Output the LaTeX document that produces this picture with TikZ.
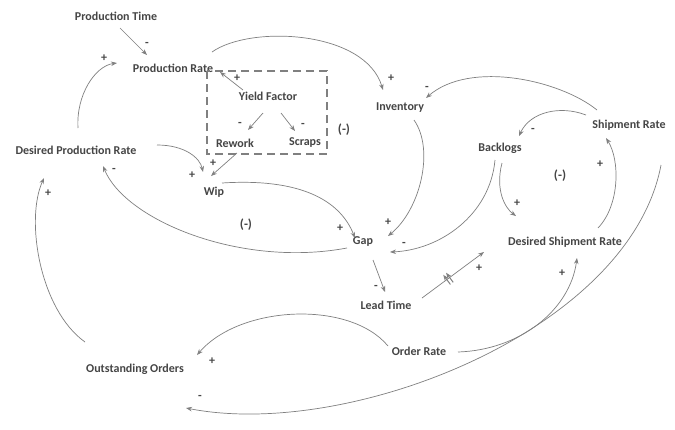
\documentclass[tikz,border=0pt]{standalone}
\usepackage{fontspec}
\setmainfont{Carlito}
\usetikzlibrary{arrows.meta,calc,decorations.markings}
\definecolor{lnc}{HTML}{808080}
\definecolor{txc}{HTML}{454545}
\tikzset{
  var/.style={font=\bfseries\fontsize{12}{13}\selectfont, text=txc, inner sep=1pt},
  sgn/.style={font=\bfseries\fontsize{12}{13}\selectfont, text=txc, inner sep=0pt},
  loopl/.style={font=\bfseries\fontsize{13}{14}\selectfont, text=txc, inner sep=0pt},
  lnk/.style={draw=lnc, line width=0.7pt, -{Stealth[length=6pt,width=4.5pt]}},
  delaymark/.style={postaction={decorate}, decoration={markings, mark=at position 0.4 with {\draw[lnc,line width=1pt] (0,-6pt)--(0,6pt); \draw[lnc,line width=1pt] (3.5pt,-6pt)--(3.5pt,6pt);}}},
  grp/.style={draw=lnc, line width=2.2pt, dash pattern=on 8pt off 5pt}
}
\begin{document}
\begin{tikzpicture}[x=1pt,y=-1pt]
\useasboundingbox[fill=white] (0,0) rectangle (675,429);
% variables
\node[var] (PT) at (116,16) {Production Time};
\node[var] (PR) at (173,68) {Production Rate};
\node[var] (YF) at (268,96) {Yield Factor};
\node[var] (RW) at (235,143) {Rework};
\node[var] (SC) at (305,143) {Scraps};
\node[var] (INV) at (400,108) {Inventory};
\node[var] (SR) at (629,125) {Shipment Rate};
\node[var] (BL) at (500,148) {Backlogs};
\node[var] (DPR) at (76,150) {Desired Production Rate};
\node[var] (WIP) at (214,192) {Wip};
\node[var] (GAP) at (363,242) {Gap};
\node[var] (DSR) at (565,242) {Desired Shipment Rate};
\node[var] (LT) at (386,305) {Lead Time};
\node[var] (OR) at (419,351) {Order Rate};
\node[var] (OO) at (135,369) {Outstanding Orders};
% group box
\coordinate (B1) at (207,71);
\coordinate (B2) at (327,154);
\draw[grp] (B1) rectangle (B2);
% loop labels
\node[loopl] (L1) at (344,130) {(-)};
\node[loopl] (L2) at (560,176) {(-)};
\node[loopl] (L3) at (246,225) {(-)};
% links
\draw[lnk] ($(PT)+(4,12)$) -- ($(PR)+(-26,-13)$);
\node[sgn] (s1) at (147,44) {-};
\draw[lnk] ($(DPR)+(2,-22)$) .. controls (76,95) and (95,66) .. ($(PR)+(-56,-5)$);
\node[sgn] (s2) at (104,58) {+};
\draw[lnk] ($(PR)+(39,-16)$) .. controls (250,25) and (365,30) .. ($(INV)+(-17,-18)$);
\node[sgn] (s3) at (391,78) {+};
\draw[lnk] ($(YF)+(-25,-6)$) -- ($(PR)+(47,4)$);
\node[sgn] (s4) at (237,78) {+};
\draw[lnk] ($(YF)+(-5,17)$) -- ($(RW)+(13,-13)$);
\node[sgn] (s5) at (240,124) {-};
\draw[lnk] ($(YF)+(13,17)$) -- ($(SC)+(-10,-12)$);
\node[sgn] (s6) at (303,125) {-};
\draw[lnk] ($(RW)+(2,10)$) -- ($(WIP)+(-3,-16)$);
\node[sgn] (s7) at (213,163) {+};
\draw[lnk] ($(DPR)+(81,-5)$) .. controls (185,145) and (200,158) .. ($(WIP)+(-11,-20)$);
\node[sgn] (s8) at (192,175) {+};
\draw[lnk] ($(GAP)+(-16,6)$) .. controls (240,268) and (125,220) .. ($(DPR)+(27,16)$);
\node[sgn] (s9) at (114,170) {-};
\draw[lnk] ($(WIP)+(8,-9)$) .. controls (300,178) and (340,200) .. ($(GAP)+(-8,-4)$);
\node[sgn] (s10) at (340,228) {+};
\draw[lnk] ($(INV)+(14,12)$) .. controls (435,150) and (420,210) .. ($(GAP)+(25,-6)$);
\node[sgn] (s11) at (388,222) {+};
\draw[lnk] ($(BL)+(-5,12)$) .. controls (490,215) and (440,250) .. ($(GAP)+(27,10)$);
\node[sgn] (s12) at (404,244) {-};
\draw[lnk] ($(BL)+(2,15)$) .. controls (495,190) and (505,208) .. ($(DSR)+(-49,-26)$);
\node[sgn] (s13) at (517,203) {+};
\draw[lnk] ($(SR)+(-32,-15)$) .. controls (560,80) and (470,60) .. ($(INV)+(26,-10)$);
\node[sgn] (s14) at (427,88) {-};
\draw[lnk] ($(SR)+(-43,-10)$) .. controls (560,105) and (530,112) .. ($(BL)+(19,-12)$);
\node[sgn] (s15) at (533,130) {-};
\draw[lnk] ($(DSR)+(33,-14)$) .. controls (620,205) and (620,160) .. ($(SR)+(-23,13)$);
\node[sgn] (s16) at (600,164) {+};
\draw[lnk] ($(GAP)+(10,18)$) -- ($(LT)+(-1,-13)$);
\node[sgn] (s17) at (376,287) {-};
\draw[lnk,delaymark] ($(LT)+(36,-7)$) -- ($(DSR)+(-81,10)$);
\node[sgn] (s18) at (479,268) {+};
\draw[lnk] ($(OR)+(39,1)$) .. controls (520,350) and (570,310) .. ($(DSR)+(12,16)$);
\node[sgn] (s19) at (562,273) {+};
\draw[lnk] ($(OR)+(-31,-5)$) .. controls (350,300) and (240,305) .. ($(OO)+(62,-14)$);
\node[sgn] (s20) at (212,361) {+};
\draw[lnk] ($(SR)+(32,40)$) .. controls (630,330) and (350,440) .. ($(OO)+(51,39)$);
\node[sgn] (s21) at (200,397) {-};
\draw[lnk] ($(OO)+(-50,-27)$) .. controls (40,310) and (25,220) .. ($(DPR)+(-32,28)$);
\node[sgn] (s22) at (48,193) {+};
\end{tikzpicture}
\end{document}
